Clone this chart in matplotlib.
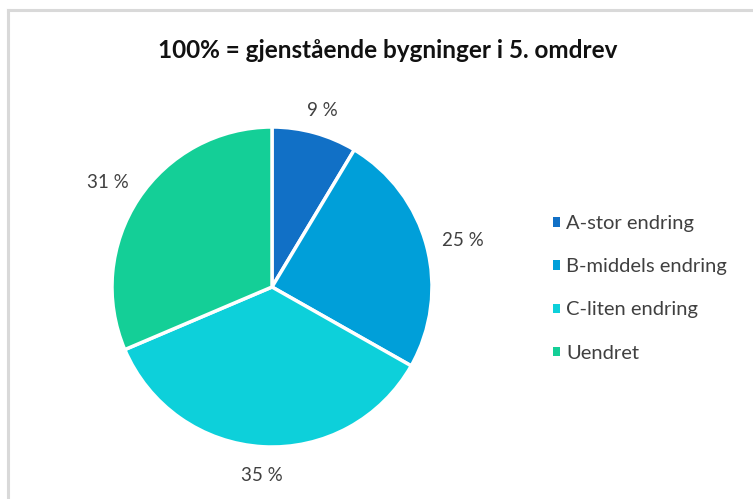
import numpy as np
import matplotlib.pyplot as plt
from matplotlib.patches import Patch
from matplotlib.lines import Line2D

# data (slice sizes)
categories = ['A-stor endring', 'B-middels endring', 'C-liten endring', 'Uendret']
shares = [8.6, 24.6, 35.4, 31.4]
pct_labels = ['9 %', '25 %', '35 %', '31 %']
colors = ['#1170C6', '#009FD9', '#0DD0DA', '#14CF97']
title = '100% = gjenstående bygninger i 5. omdrev'

plt.rcParams['font.family'] = ['Lato', 'DejaVu Sans']

fig = plt.figure(figsize=(7.53, 4.99), dpi=100)

# light frame of the chart area (top and left edges visible)
fig.add_artist(Line2D([8/753, 8/753], [0, 1 - 10/499], color='#D9D9D9', lw=2.2,
                      transform=fig.transFigure))
fig.add_artist(Line2D([8/753, 1], [1 - 10/499, 1 - 10/499], color='#D9D9D9', lw=2.2,
                      transform=fig.transFigure))

R_PX = 160
ax = fig.add_axes([112/753, 1 - 447/499, 2*R_PX/753, 2*R_PX/499])
wedges, _ = ax.pie(shares, colors=colors, startangle=90, counterclock=False,
                   wedgeprops=dict(edgecolor='white', linewidth=2.5))
ax.set_xlim(-1, 1)
ax.set_ylim(-1, 1)
ax.set_aspect('equal')

# labels placed just outside the rim, like "outside end" data labels
renderer = fig.canvas.get_renderer()
gap = 15
for w, lab in zip(wedges, pct_labels):
    ang = np.deg2rad((w.theta1 + w.theta2) / 2)
    t = ax.text(0, 0, lab, ha='center', va='center', fontsize=13.5, color='#404040')
    bb = t.get_window_extent(renderer)
    d = R_PX + gap + abs(np.cos(ang)) * bb.width / 2 + abs(np.sin(ang)) * bb.height / 2
    t.set_position((d / R_PX * np.cos(ang), (d * np.sin(ang) - 4) / R_PX))

fig.text(388/753, 1 - 50/499, title, ha='center', va='center',
         fontsize=17.5, fontweight='bold', color='#111111')

handles = [Patch(facecolor=c, edgecolor='none') for c in colors]
fig.legend(handles, categories, loc='upper left', bbox_to_anchor=(535/753, 1 - 197/499),
           frameon=False, fontsize=14.5, labelcolor='#404040',
           handlelength=0.35, handleheight=0.35, handletextpad=0.3, labelspacing=1.3)

fig.savefig('out.png', dpi=100)
